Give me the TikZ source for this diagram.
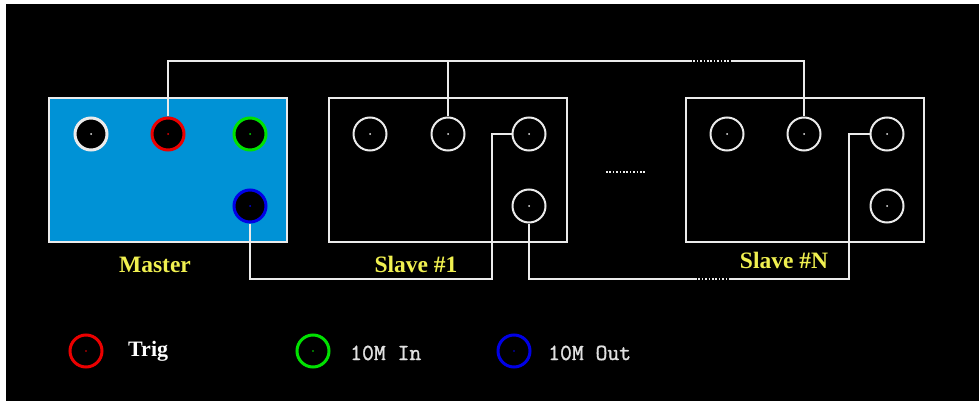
\documentclass[tikz,border=0pt]{standalone}
\usepackage{fontspec}
\setmainfont{Liberation Serif}
\newfontfamily\legmono[FakeBold=1.2]{Latin Modern Mono}
\definecolor{wcol}{RGB}{235,235,235}
\definecolor{ycol}{RGB}{240,240,80}
\definecolor{mblue}{RGB}{0,146,214}
\definecolor{pred}{RGB}{235,0,0}
\definecolor{pgreen}{RGB}{0,225,0}
\definecolor{pblue}{RGB}{0,0,230}
\definecolor{lgray}{RGB}{225,225,225}
\begin{document}
\begin{tikzpicture}[x=1pt,y=-1pt,
  wire/.style={draw=wcol,line width=2pt},
  dotwire/.style={draw=wcol,line width=1.8pt,dash pattern=on 1.6pt off 1.8pt},
  box/.style={draw=wcol,line width=2pt,minimum width=238pt,minimum height=144pt,inner sep=0pt},
  port/.style={circle,draw=#1,line width=3pt,fill=black,minimum size=32pt,inner sep=0pt,
    path picture={\fill[#1] (path picture bounding box.center) circle (1pt);}},
  sport/.style={circle,draw=wcol,line width=2pt,minimum size=33pt,inner sep=0pt,
    path picture={\fill[wcol] (path picture bounding box.center) circle (1pt);}},
  lab/.style={text=ycol,anchor=base,font=\bfseries\fontsize{23.5}{28}\selectfont},
  lport/.style={circle,draw=#1,line width=3pt,minimum size=32pt,inner sep=0pt,
    path picture={\fill[#1] (path picture bounding box.center) circle (0.9pt);}},
  legtxt/.style={anchor=base west,inner sep=0pt,text=lgray,font=\legmono\fontsize{23}{27}\selectfont},
]
\useasboundingbox (0,0) rectangle (979,401);
\fill[white] (0,0) rectangle (979,401);
\fill[black] (6,4) rectangle (979,401);

% boxes
\node[box,fill=mblue] (master) at (168,170) {};
\node[box] (slave1) at (447.5,170) {};
\node[box] (slaveN) at (804.5,170) {};

% helper coordinates
\coordinate (t1) at (690,61);
\coordinate (t2) at (732,61);
\coordinate (b1) at (492,279);
\coordinate (d1) at (695,279);
\coordinate (d2) at (730,279);
\coordinate (b2) at (849,279);
\coordinate (md1) at (606,172);
\coordinate (md2) at (646,172);

% port positions
\path (91,134) coordinate (pm1) (168,134) coordinate (pm2) (250,134) coordinate (pm3) (250,206) coordinate (pm4)
      (370,134) coordinate (ps1) (448,134) coordinate (ps2) (529,134) coordinate (ps3) (529,206) coordinate (ps4)
      (727,134) coordinate (pn1) (804,134) coordinate (pn2) (887,134) coordinate (pn3) (887,206) coordinate (pn4);

\node[port=wcol] (m1) at (pm1) {};
\node[port=pred] (m2) at (pm2) {};
\node[port=pgreen] (m3) at (pm3) {};
\node[port=pblue] (m4) at (pm4) {};
\node[sport] (s1) at (ps1) {};
\node[sport] (s2) at (ps2) {};
\node[sport] (s3) at (ps3) {};
\node[sport] (s4) at (ps4) {};
\node[sport] (n1) at (pn1) {};
\node[sport] (n2) at (pn2) {};
\node[sport] (n3) at (pn3) {};
\node[sport] (n4) at (pn4) {};

% top trigger wire
\draw[wire] (m2.north) |- (t1);
\draw[dotwire] (t1) -- (t2);
\draw[wire] (t2) -| (n2.north);
\draw[wire] (s2.north) -- (s2.north |- t1);

% 10M wires
\draw[wire] (m4.south) |- (b1) |- (s3.west);
\draw[wire] (s4.south) |- (d1);
\draw[dotwire] (d1) -- (d2);
\draw[wire] (d2) -- (b2) |- (n3.west);

% middle dots
\draw[dotwire] (md1) -- (md2);

% labels
\node[lab] (lm) at (155,272) {Master};
\node[lab] (ls1) at (416,272) {Slave \#1};
\node[lab] (lsn) at (784,268) {Slave \#N};

% legend
\node[lport=pred] (lr) at (86,351) {};
\node[lport=pgreen] (lg) at (313,351) {};
\node[lport=pblue] (lb) at (514,351) {};
\node[anchor=base west,inner sep=0pt,text=white,font=\bfseries\fontsize{22}{26}\selectfont] (tt) at (128,356) {Trig};
\node[legtxt] (ti) at (350,360) {10M In};
\node[legtxt] (to) at (548,360) {10M Out};
\end{tikzpicture}
\end{document}
